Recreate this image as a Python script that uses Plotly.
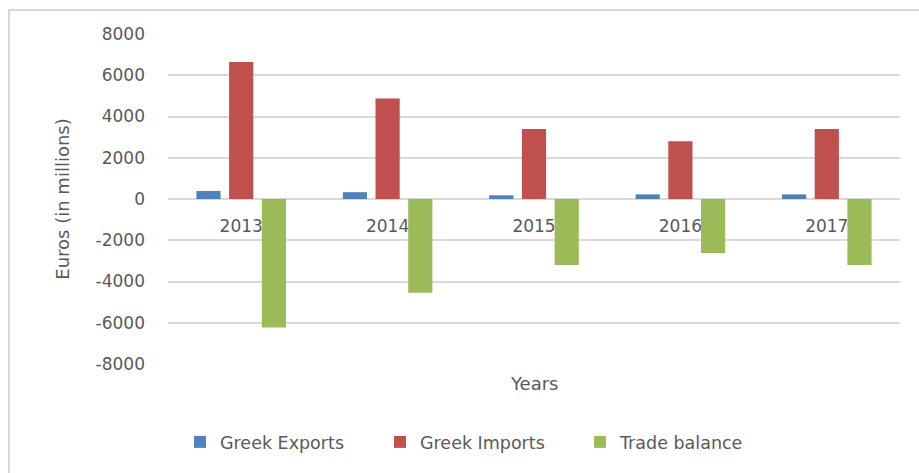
import plotly.graph_objects as go

years = ["2013", "2014", "2015", "2016", "2017"]
exports = [390, 330, 180, 225, 225]
imports = [6640, 4870, 3400, 2800, 3400]
balance = [-6230, -4540, -3200, -2620, -3200]

series_names = ["Greek Exports", "Greek Imports", "Trade balance"]
colors = ["#4F81BD", "#C0504D", "#9BBB59"]
y_ticks = [-8000, -6000, -4000, -2000, 0, 2000, 4000, 6000, 8000]
y_tick_labels = [str(v) for v in y_ticks]

FONT = "DejaVu Sans"
TXT = "#595959"
GRID = "#D9D9D9"

fig = go.Figure()
for name, vals, col in zip(series_names, [exports, imports, balance], colors):
    fig.add_trace(go.Bar(x=years, y=vals, name=name, marker=dict(color=col, line=dict(width=0))))

W, H = 919, 473
L, R, T, B = 168, 19, 34, 109
pw, ph = W - L - R, H - T - B

def px(xp):
    return (xp - L) / pw

def py(yp):
    return (H - B - yp) / ph

fig.update_layout(
    width=W, height=H,
    margin=dict(l=L, r=R, t=T, b=B),
    paper_bgcolor="white", plot_bgcolor="white",
    barmode="group", bargap=0.33, bargroupgap=0.26,
    font=dict(family=FONT, size=17, color=TXT),
    showlegend=True,
    legend=dict(orientation="h", x=px(480), xanchor="center", y=py(442), yanchor="middle",
                font=dict(size=17.5, color=TXT), itemwidth=30, traceorder="normal",
                entrywidth=155, entrywidthmode="pixels"),
    xaxis=dict(type="category", anchor="free", position=0.5, showline=False, ticks="",
               showgrid=False, ticklabelstandoff=15, layer="below traces",
               tickfont=dict(size=17, color=TXT)),
    yaxis=dict(range=[-8000, 8000], tickvals=y_ticks, ticktext=y_tick_labels,
               showgrid=True, gridcolor=GRID, gridwidth=2,
               zeroline=True, zerolinecolor=GRID, zerolinewidth=2, showline=False, ticks="",
               ticklabelstandoff=22, tickfont=dict(size=17, color=TXT),
               title=dict(text="Euros (in millions)", font=dict(size=18, color=TXT), standoff=21)),
    annotations=[dict(text="Years", xref="paper", yref="paper", x=0.5, y=py(383),
                      xanchor="center", yanchor="middle", showarrow=False,
                      font=dict(size=18, color=TXT))],
    shapes=[dict(type="rect", xref="paper", yref="paper", x0=px(9), x1=px(940),
                 y0=py(490), y1=py(10), line=dict(color=GRID, width=2), layer="below")],
)

fig.write_html("out.html")
